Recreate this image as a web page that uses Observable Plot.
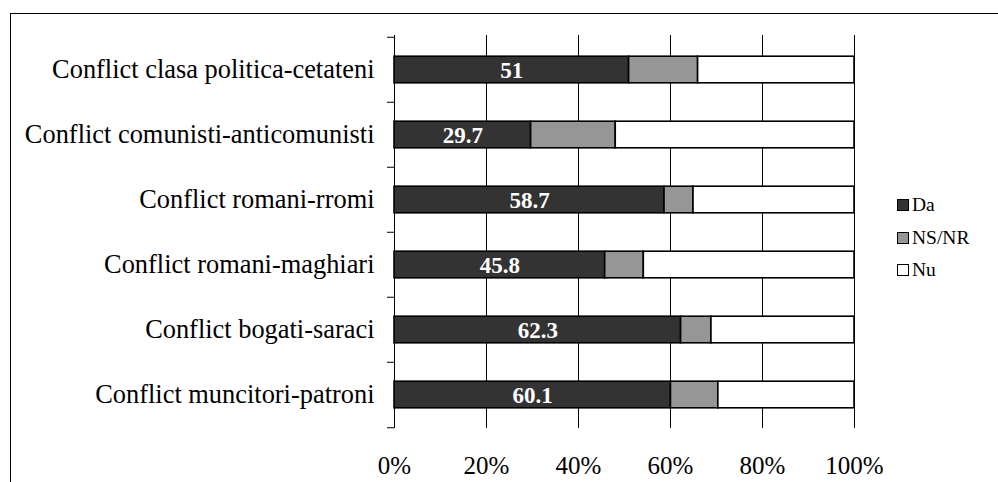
<!DOCTYPE html>
<html>
<head>
<meta charset="utf-8">
<script src="https://cdn.jsdelivr.net/npm/d3@7"></script>
<script src="https://cdn.jsdelivr.net/npm/@observablehq/plot@0.6"></script>
<style>
  html, body { margin: 0; padding: 0; background: #fff; }
  #wrap { position: relative; width: 998px; height: 482px; overflow: hidden; font-family: "Liberation Serif", "Times New Roman", serif; }
  #frame { position: absolute; left: 10px; top: 13px; width: 1200px; height: 600px; border-left: 1px solid #000; border-top: 1px solid #000; }
  #legend { position: absolute; left: 897px; top: 189px; z-index: 2; }
  .row { display: flex; align-items: center; height: 32.5px; font-size: 19.5px; color: #000; font-family: "Liberation Serif", "Times New Roman", serif; }
  .sw { width: 10px; height: 10px; border: 1.6px solid #000; margin-right: 3px; }
  svg { position: absolute; left: 0; top: 0; }
</style>
</head>
<body>
<div id="wrap"><div id="frame"></div></div>
<script>
const categories = [
  "Conflict clasa politica-cetateni",
  "Conflict comunisti-anticomunisti",
  "Conflict romani-rromi",
  "Conflict romani-maghiari",
  "Conflict bogati-saraci",
  "Conflict muncitori-patroni"
];
const series = ["Da", "NS/NR", "Nu"];
const colors = ["#333333", "#969696", "#ffffff"];
const da   = [51, 29.7, 58.7, 45.8, 62.3, 60.1];
const nsnr = [15, 18.4, 6.3, 8.4, 6.6, 10.3];
const nu   = [34, 51.9, 35, 45.8, 31.1, 29.6];
const xTicks = [0, 20, 40, 60, 80, 100];

const rows = [];
categories.forEach((c, i) => {
  rows.push({cat: c, series: "Da", value: da[i]});
  rows.push({cat: c, series: "NS/NR", value: nsnr[i]});
  rows.push({cat: c, series: "Nu", value: nu[i]});
});
const daRows = rows.filter(d => d.series === "Da");

const step = (482 - 35 - 54) / categories.length;

const chart = Plot.plot({
  width: 998,
  height: 482,
  marginLeft: 394,
  marginRight: 144,
  marginTop: 35,
  marginBottom: 54,
  style: {fontFamily: "Liberation Serif, Times New Roman, serif", fontSize: "25px", background: "transparent", overflow: "visible"},
  x: {domain: [0, 100], label: null},
  y: {domain: categories, padding: 0, label: null},
  color: {domain: series, range: colors},
  marks: [
    Plot.ruleX(xTicks, {stroke: "#000", strokeWidth: 1}),
    Plot.barX(rows, {
      x: "value", y: "cat", fill: "series", order: series,
      stroke: "#000", strokeWidth: 1.6,
      insetTop: 19.2, insetBottom: 19.2
    }),
    Plot.text(daRows, Plot.stackX({
      x: "value", y: "cat", text: d => String(d.value),
      fill: "#fff", fontWeight: "bold", fontSize: 23, dy: 1
    })),
    Plot.axisY({tickSize: 0, tickPadding: 20, fontSize: 26.4, fill: "#000", label: null}),
    Plot.axisY(categories, {tickSize: 7, dy: -step / 2, tickFormat: () => "", stroke: "#000", label: null}),
    Plot.axisY([categories[categories.length - 1]], {tickSize: 7, dy: step / 2, tickFormat: () => "", stroke: "#000", label: null}),
    Plot.axisX(xTicks, {tickSize: 0, tickPadding: 28, tickFormat: d => d + "%", fontSize: 25, fill: "#000", label: null})
  ]
});
document.getElementById("wrap").appendChild(chart);

const legend = document.createElement("div");
legend.id = "legend";
series.forEach((s, i) => {
  const row = document.createElement("div");
  row.className = "row";
  const sw = document.createElement("span");
  sw.className = "sw";
  sw.style.background = colors[i];
  const t = document.createElement("span");
  t.textContent = s;
  row.appendChild(sw);
  row.appendChild(t);
  legend.appendChild(row);
});
document.getElementById("wrap").appendChild(legend);
</script>
</body>
</html>
